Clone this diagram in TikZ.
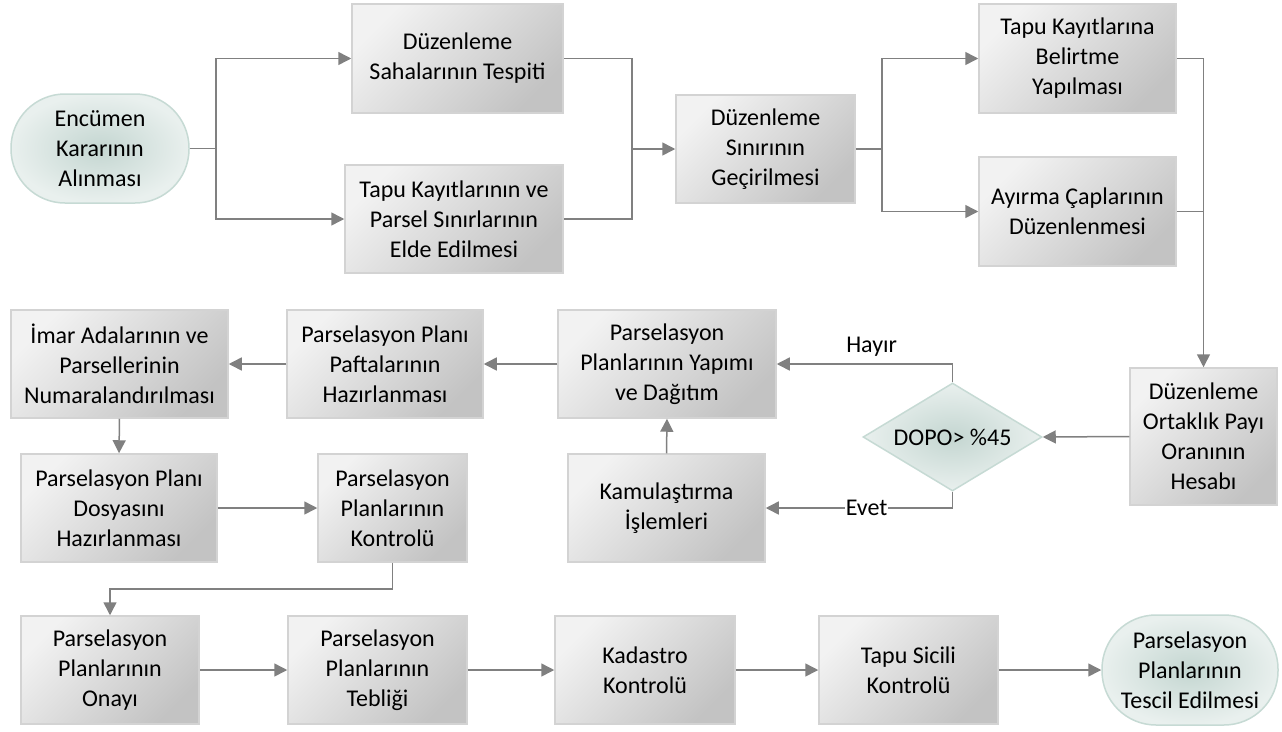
\documentclass[tikz,border=0pt]{standalone}
\usepackage{fontspec}
\setmainfont{Carlito}
\usetikzlibrary{arrows.meta,shapes.geometric}
\definecolor{ln}{HTML}{808080}
\definecolor{bxA}{HTML}{F2F2F2}
\definecolor{bxB}{HTML}{C3C3C3}
\definecolor{bxD}{HTML}{D3D3D3}
\definecolor{tmIn}{HTML}{C4D6D1}
\definecolor{tmOut}{HTML}{E9F0EE}
\definecolor{tmD}{HTML}{C6DAD4}
\begin{document}
\begin{tikzpicture}[x=1pt,y=-1pt,
  every node/.style={font=\fontsize{24}{30}\selectfont, align=center, inner sep=0pt},
  proc/.style={draw=bxD, line width=1.5pt, top color=bxA, bottom color=bxB, shading angle=45, minimum height=108pt},
  term/.style={draw=tmD, line width=1.5pt, inner color=tmIn, outer color=tmOut, rounded corners=54pt, minimum height=109pt},
  decis/.style={shape=diamond, aspect=1.66, draw=tmD, line width=1.5pt, inner color=tmIn, outer color=tmOut, minimum width=179pt, minimum height=108pt},
  conn/.style={draw=ln, line width=1.5pt},
  arr/.style={conn, -{Triangle[length=13pt,width=13pt]}, fill=none},
  lbl/.style={font=\fontsize{24}{30}\selectfont}
]
\fill[white] (0,0) rectangle (1282,731);
\useasboundingbox (0,0) rectangle (1282,731);

\node[term, minimum width=178pt] (t1) at (100,148.5) {Encümen\\Kararının\\Alınması};
\node[proc, minimum width=211pt, minimum height=109pt] (b2) at (457.5,58.5) {Düzenleme\\Sahalarının Tespiti};
\node[proc, minimum width=218pt] (b3) at (454,219) {Tapu Kayıtlarının ve\\Parsel Sınırlarının\\Elde Edilmesi};
\node[proc, minimum width=179pt] (b4) at (765.5,149) {Düzenleme\\Sınırının\\Geçirilmesi};
\node[proc, minimum width=197pt, minimum height=109pt] (b5) at (1077.5,58.5) {Tapu Kayıtlarına\\Belirtme\\Yapılması};
\node[proc, minimum width=197pt, minimum height=109pt] (b6) at (1077.5,211.5) {Ayırma Çaplarının\\Düzenlenmesi};
\node[proc, minimum width=147pt, minimum height=137pt] (b7) at (1203.5,436.5) {Düzenleme\\Ortaklık Payı\\Oranının\\Hesabı};
\node[decis] (d8) at (952.5,437) {DOPO> \%45};
\node[proc, minimum width=218pt] (b9) at (667,364) {Parselasyon\\Planlarının Yapımı\\ve Dağıtım};
\node[proc, minimum width=197pt] (b10) at (666.5,508) {Kamulaştırma\\İşlemleri};
\node[proc, minimum width=196pt] (b11) at (385,364) {Parselasyon Planı\\Paftalarının\\Hazırlanması};
\node[proc, minimum width=217pt] (b12) at (119.5,364) {İmar Adalarının ve\\Parsellerinin\\Numaralandırılması};
\node[proc, minimum width=196pt] (b13) at (119,508) {Parselasyon Planı\\Dosyasını\\Hazırlanması};
\node[proc, minimum width=149pt] (b14) at (392.5,508) {Parselasyon\\Planlarının\\Kontrolü};
\node[proc, minimum width=178pt] (b15) at (110,670) {Parselasyon\\Planlarının\\Onayı};
\node[proc, minimum width=179pt] (b16) at (377.5,670) {Parselasyon\\Planlarının\\Tebliği};
\node[proc, minimum width=180pt] (b17) at (645,670) {Kadastro\\Kontrolü};
\node[proc, minimum width=179pt] (b18) at (908.5,670) {Tapu Sicili\\Kontrolü};
\node[term, minimum width=176pt, minimum height=110pt] (t19) at (1190,670) {Parselasyon\\Planlarının\\Tescil Edilmesi};

\coordinate (j1) at (216,148.5);
\coordinate (j2) at (632,149);
\coordinate (j3) at (882,149);

\draw[conn] (t1.east) -- (j1);
\draw[arr] (j1) |- (b2.west);
\draw[arr] (j1) |- (b3.west);
\draw[conn] (b2.east) -| (j2);
\draw[conn] (b3.east) -| (j2);
\draw[arr] (j2) -- (b4.west);
\draw[conn] (b4.east) -- (j3);
\draw[arr] (j3) |- (b5.west);
\draw[arr] (j3) |- (b6.west);
\draw[arr] (b5.east) -| (b7.north);
\draw[conn] (b6.east) -- (b6.east -| b7.north);
\draw[arr] (b7.west) -- (d8.east);
\draw[arr] (d8.north) |- (b9.east) node[lbl, pos=0.73, above=7pt] {Hayır};
\draw[arr] (d8.south) |- (b10.east) node[lbl, pos=0.73, fill=white, inner xsep=1pt, inner ysep=0pt] {Evet};
\draw[arr] (b10.north) -- (b9.south);
\draw[arr] (b9.west) -- (b11.east);
\draw[arr] (b11.west) -- (b12.east);
\draw[arr] (b12.south) -- (b13.north);
\draw[arr] (b13.east) -- (b14.west);
\draw[arr] (b14.south) -- ++(0,26) -| (b15.north);
\draw[arr] (b15.east) -- (b16.west);
\draw[arr] (b16.east) -- (b17.west);
\draw[arr] (b17.east) -- (b18.west);
\draw[arr] (b18.east) -- (t19.west);
\end{tikzpicture}
\end{document}
